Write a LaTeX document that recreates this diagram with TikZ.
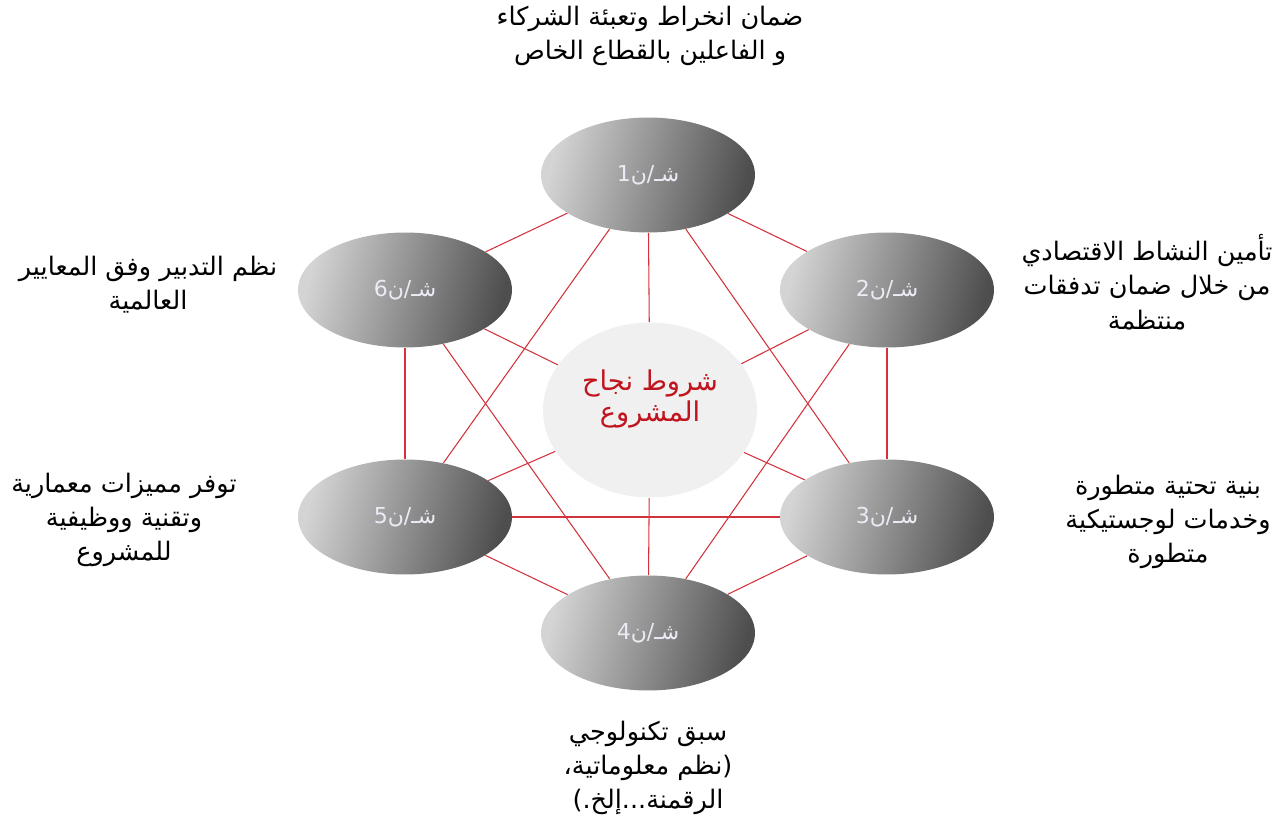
\documentclass[tikz,border=0pt]{standalone}
\usepackage{fontspec}
\usetikzlibrary{shapes.geometric,backgrounds}
\TeXXeTstate=1
\newfontfamily\arabicfont[Script=Arabic]{DejaVu Sans}
\definecolor{linkred}{RGB}{210,50,60}
\definecolor{titlered}{RGB}{192,20,30}
\definecolor{centerfill}{RGB}{240,240,240}
\definecolor{ballight}{RGB}{212,212,212}
\definecolor{baldark}{RGB}{78,78,78}
\definecolor{ballabel}{RGB}{235,235,245}
\tikzset{
  ball/.style={ellipse, minimum width=4.28cm, minimum height=2.3cm, inner sep=0pt,
    left color=ballight, right color=baldark, shading angle=75, draw=none,
    font=\arabicfont\fontsize{12.5}{15}\selectfont, text=ballabel},
  hub/.style={ellipse, minimum width=4.28cm, minimum height=3.5cm, inner sep=0pt,
    fill=centerfill, draw=none},
  hubtext/.style={text=titlered, align=center, inner sep=0pt,
    font=\arabicfont\fontsize{15.5}{18}\selectfont},
  link/.style={draw=linkred, line width=0.6pt},
  lbl/.style={align=center, text=black, inner sep=0pt,
    font=\arabicfont\fontsize{14.5}{19.5}\selectfont}
}
\begin{document}
\begin{tikzpicture}[x=0.02cm,y=-0.02cm]
\useasboundingbox (0,0) rectangle (1278,817);
\node[hub] (c) at (650,410) {};
\node[hubtext] (ct) at (650,399) {\beginR شروط نجاح\endR\\\beginR المشروع\endR};
\node[ball] (e1) at (648,175) {\beginR شـ/ن1\endR};
\node[ball] (e2) at (887,290) {\beginR شـ/ن2\endR};
\node[ball] (e3) at (887,517) {\beginR شـ/ن3\endR};
\node[ball] (e4) at (648,633) {\beginR شـ/ن4\endR};
\node[ball] (e5) at (405,517) {\beginR شـ/ن5\endR};
\node[ball] (e6) at (405,290) {\beginR شـ/ن6\endR};
\begin{pgfonlayer}{background}
\draw[link] (e1) -- (e2);
\draw[link] (e2) -- (e3);
\draw[link] (e3) -- (e4);
\draw[link] (e4) -- (e5);
\draw[link] (e5) -- (e6);
\draw[link] (e6) -- (e1);
\draw[link] (e1) -- (e3);
\draw[link] (e1) -- (e5);
\draw[link] (e2) -- (e4);
\draw[link] (e6) -- (e4);
\draw[link] (e5) -- (e3);
\foreach \e in {e1,e2,e3,e4,e5,e6} \draw[link] (c) -- (\e);
\end{pgfonlayer}
\node[lbl] (t1) at (650,36) {\beginR ضمان انخراط وتعبئة الشركاء\endR\\\beginR و الفاعلين بالقطاع الخاص\endR};
\node[lbl] (t2) at (1147,282) {\beginR تأمين النشاط الاقتصادي\endR\\\beginR من خلال ضمان تدفقات\endR\\\beginR منتظمة\endR};
\node[lbl] (t3) at (1168,522) {\beginR بنية تحتية متطورة\endR\\\beginR وخدمات لوجستيكية\endR\\\beginR متطورة\endR};
\node[lbl] (t4) at (648,768) {\beginR سبق تكنولوجي\endR\\\beginR (نظم معلوماتية،\endR\\\beginR الرقمنة...إلخ.)\endR};
\node[lbl] (t5) at (124,520) {\beginR توفر مميزات معمارية\endR\\\beginR وتقنية ووظيفية\endR\\\beginR للمشروع\endR};
\node[lbl] (t6) at (148,285) {\beginR نظم التدبير وفق المعايير\endR\\\beginR العالمية\endR};
\end{tikzpicture}
\end{document}
